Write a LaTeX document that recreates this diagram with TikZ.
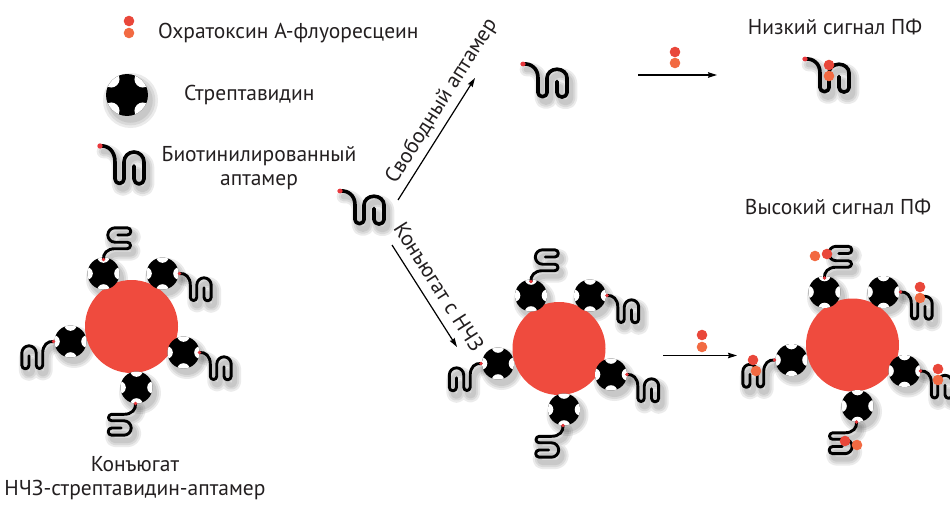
\documentclass[tikz,border=0pt]{standalone}
\usepackage{fontspec}
\setmainfont{PT Sans}
\usetikzlibrary{arrows.meta}

\definecolor{nanoRed}{HTML}{EF4B3E}
\definecolor{otaDark}{HTML}{E9473A}
\definecolor{otaLight}{HTML}{F26A42}
\definecolor{biotinRed}{HTML}{E8383D}
\definecolor{txt}{HTML}{231F20}

\newcommand\labelfont{\fontsize{21.5}{24}\selectfont}
\newif\ifshade
\newcommand\shadegrow{0}

\tikzset{
  aptw/.store in=\aptw, aptw=3.6,
  shadowink/.style={black, opacity=.08},
  % biotinylated aptamer: tail from the biotin dot, then a folded strand
  aptpath/.style={insert path={(0,0) .. controls (8,1) and (15,-5) .. (15,-16)
      -- (15,-33) arc[start angle=180,end angle=360,radius=4.5]
      -- (24,-16) arc[start angle=180,end angle=0,radius=10]
      -- (44,-33) arc[start angle=0,end angle=-180,radius=5]
      -- (34,-20)}},
  aptamer/.pic={
    \ifshade
      \pgfmathsetmacro\lw{\aptw+\shadegrow}
      \draw[line width=\lw pt, shadowink, line cap=round, line join=round, aptpath];
    \else
      \draw[line width=\aptw pt, line cap=round, line join=round, aptpath];
      \fill[biotinRed] (0,0) circle (2.7);
    \fi
  },
  % streptavidin: a disc with four round notches
  strep/.pic={
    \ifshade
      \fill[shadowink] (0,0) circle ({16+\shadegrow/2});
    \else
      \fill[black] (0,0) circle (16);
      \begin{scope}
        \clip (0,0) circle (16);
        \foreach \a in {0,90,180,270} \fill[white] (\a:17) circle (6.3);
      \end{scope}
    \fi
  },
  % gold nanoparticle carrying five streptavidin-aptamer units
  conj/.pic={
    \ifshade\else \fill[nanoRed] (0,0) circle (46.5); \fi
    \pic at (-28,53) {strep};
    \pic at (31,53) {strep};
    \pic at (-61,-15) {strep};
    \pic at (52,-26) {strep};
    \pic at (5,-61) {strep};
    \pic[rotate=90, scale=.72, aptw=2.9] at (-28,67) {aptamer};
    \pic[scale=.72, aptw=2.9] at (48,53) {aptamer};
    \pic[xscale=-.72, yscale=.72, aptw=2.9] at (-78,-15) {aptamer};
    \pic[scale=.72, aptw=2.9] at (68,-26) {aptamer};
    \pic[rotate=-90, scale=.72, aptw=2.9] at (4,-77) {aptamer};
  },
  flow/.style={line width=1.2pt, -{Stealth[length=9pt,width=5.5pt,inset=1pt]}},
  otaA/.style={fill=otaDark},
  otaB/.style={fill=otaLight},
}

\newcommand\molecules{%
  \pic[rotate=45, scale=1.31] at (127,-95) {strep};
  \pic at (100,-146) {aptamer};
  \pic[yscale=.87] at (340,-191) {aptamer};
  \pic[yscale=.87] at (523,-64) {aptamer};
  \pic[yscale=.87] at (805,-59) {aptamer};
  \pic at (131.5,-326.5) {conj};
  \pic at (559,-348.5) {conj};
  \pic at (852.5,-345) {conj};
}

% ochratoxin A - fluorescein tracer: two touching dots
\newcommand\otapair[2]{%
  \fill[otaA] (#1) circle (5.3);
  \fill[otaB] (#2) circle (5.3);
}

\begin{document}
\begin{tikzpicture}[x=1pt, y=1pt,
    every node/.style={font=\labelfont, text=txt, inner sep=0pt}]
  \useasboundingbox (0,0) rectangle (950,-508);

  % soft shadows under the molecules
  \foreach \g in {10,6,2} {
    \begin{scope}[shift={(3.5,-5.5)}]
      \shadetrue
      \def\shadegrow{\g}
      \molecules
    \end{scope}
  }

  % molecules
  \molecules

  % tracers, free and bound
  \otapair{129,-21}{129,-33}
  \otapair{675,-52}{675,-63}
  \otapair{702,-335}{702,-347}
  \otapair{829,-65}{829,-76}
  \otapair{827,-254}{815,-256}
  \otapair{920,-287}{920,-298}
  \otapair{753,-360}{756,-371}
  \otapair{938,-369}{938,-380}
  \otapair{845,-441}{857,-445}

  % legend
  \node[anchor=west] (otaLbl) at (158,-33) {Охратоксин А-флуоресцеин};
  \node[anchor=west] (strLbl) at (184,-95) {Стрептавидин};
  \node[align=center] (aptLbl) at (259,-168) {Биотинилированный\\аптамер};
  \node[align=center] (conjLbl) at (135,-478) {Конъюгат\\НЧЗ-стрептавидин-аптамер};

  % captions of the results
  \node (lowLbl) at (835,-27) {Низкий сигнал ПФ};
  \node (highLbl) at (838,-207) {Высокий сигнал ПФ};

  % reaction arrows
  \coordinate (freeS) at (398,-200);
  \coordinate (freeE) at (475,-78);
  \coordinate (conjS) at (392,-245);
  \coordinate (conjE) at (457,-347);
  \coordinate (lowS) at (638,-75);
  \coordinate (lowE) at (717,-75);
  \coordinate (highS) at (663,-355.5);
  \coordinate (highE) at (737,-355.5);

  \draw[flow] (freeS) -- node[pos=.74, sloped, above=5pt, name=freeLbl] {Свободный аптамер} (freeE);
  \draw[flow] (conjS) -- node[pos=.5, sloped, above=9pt, name=conjArrLbl] {Конъюгат с НЧЗ} (conjE);
  \draw[flow] (lowS) -- (lowE);
  \draw[flow] (highS) -- (highE);
\end{tikzpicture}
\end{document}
